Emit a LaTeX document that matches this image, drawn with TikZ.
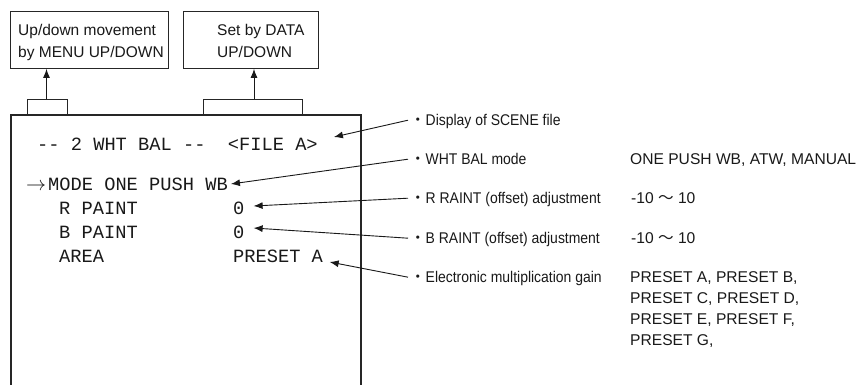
\RequirePackage{fix-cm}
\documentclass[tikz,border=0pt]{standalone}
\usepackage{fontspec}
\setmainfont{Liberation Sans}
\setmonofont{Liberation Mono}
\newfontfamily\jpfont{Noto Sans CJK JP}
\newfontfamily\labfam[FakeStretch=0.9]{Liberation Sans}
\usetikzlibrary{arrows.meta}
\newcommand\labfont{\labfam\fontsize{15.5}{20}\selectfont}
\newcommand\valfont{\fontsize{15.6}{21}\selectfont}
\newcommand\scrfont{\ttfamily\fontsize{18.7}{22}\selectfont}
\newcommand\boxfont{\fontsize{15.5}{20}\selectfont}
\newcommand\arrfont{\fontsize{20}{22}\selectfont}
\newcommand\dotb{{\jpfont\fontsize{15.5}{20}\selectfont ・}}
\newcommand\wave{{\jpfont 〜}}
\begin{document}
\begin{tikzpicture}[x=1pt,y=-1pt,
  every node/.style={inner sep=0pt, text=black!90},
  lab/.style={font=\labfont, anchor=base west},
  val/.style={font=\valfont, anchor=base west},
  scr/.style={font=\scrfont, anchor=base west},
  boxtxt/.style={font=\boxfont, anchor=base west},
  topbox/.style={draw=black!85, line width=0.9pt, anchor=north west},
  conn/.style={draw=black!90, line width=0.9pt, -{Latex[length=9pt,width=7pt]}},
  frame/.style={draw=black!85, line width=2.4pt},
  brk/.style={draw=black!85, line width=0.9pt}
]
\useasboundingbox[fill=white] (0,0) rectangle (862,385);

% top boxes
\node[topbox, minimum width=158pt, minimum height=57pt] (menu) at (10,11) {};
\node[boxtxt] (menut1) at (18,35.5) {Up/down movement};
\node[boxtxt] (menut2) at (18,57.5) {by MENU UP/DOWN};
\node[topbox, minimum width=135pt, minimum height=57pt] (data) at (183,11) {};
\node[boxtxt] (datat1) at (217,35.5) {Set by DATA};
\node[boxtxt] (datat2) at (217,57.5) {UP/DOWN};

% screen frame
\draw[frame] (11,400) -- (11,115) -- (361,115) -- (361,400);

% brackets and arrows to boxes
\draw[brk] (27,115) -- (27,99) -- (67,99) -- (67,115);
\coordinate (br1) at (46.5,99);
\draw[conn] (br1) -- (br1 |- menu.south);
\draw[brk] (203,115) -- (203,99) -- (302,99) -- (302,115);
\coordinate (br2) at (254,99);
\draw[conn] (br2) -- (br2 |- data.south);

% screen text
\node[scr] (hdr) at (37,150) {-{}- 2 WHT BAL -{}-\ \ <FILE A>};
\node[font=\arrfont, anchor=base west] (cur) at (26,190) {$\rightarrow$};
\node[scr] (mode) at (48,190) {MODE ONE PUSH WB};
\node[scr] (rp) at (59,214) {R PAINT};
\node[scr] (rv) at (233,214) {0};
\node[scr] (bp) at (59,238) {B PAINT};
\node[scr] (bv) at (233,238) {0};
\node[scr] (ar) at (59,262) {AREA};
\node[scr] (av) at (233,262) {PRESET A};

% descriptions
\node[lab] (d1) at (410,125.7) {\dotb Display of SCENE file};
\node[lab] (d2) at (410,164.7) {\dotb WHT BAL mode};
\node[lab] (d3) at (410,203.7) {\dotb R RAINT (offset) adjustment};
\node[lab] (d4) at (410,243.7) {\dotb B RAINT (offset) adjustment};
\node[lab] (d5) at (410,282.7) {\dotb Electronic multiplication gain};

% values
\node[val] (v2) at (630,164.7) {ONE PUSH WB, ATW, MANUAL};
\node[val] (v3) at (631,203.7) {-10 \wave\ 10};
\node[val] (v4) at (631,243.7) {-10 \wave\ 10};
\node[val] (v5a) at (630,282.7) {PRESET A, PRESET B,};
\node[val] (v5b) at (630,303.7) {PRESET C, PRESET D,};
\node[val] (v5c) at (630,324.7) {PRESET E, PRESET F,};
\node[val] (v5d) at (630,345.7) {PRESET G,};

% connectors
\coordinate (tip1) at ([xshift=16pt,yshift=13pt]hdr.base east);
\coordinate (tip2) at ([xshift=3pt,yshift=6pt]mode.base east);
\coordinate (tip3) at ([xshift=9pt,yshift=8pt]rv.base east);
\coordinate (tip4) at ([xshift=9pt,yshift=10pt]bv.base east);
\coordinate (tip5) at ([xshift=6.5pt,yshift=0pt]av.base east);
\draw[conn] ([xshift=-2pt,yshift=5.5pt]d1.base west) -- (tip1);
\draw[conn] ([xshift=-2pt,yshift=5.5pt]d2.base west) -- (tip2);
\draw[conn] ([xshift=-2pt,yshift=5.5pt]d3.base west) -- (tip3);
\draw[conn] ([xshift=-2pt,yshift=5.5pt]d4.base west) -- (tip4);
\draw[conn] ([xshift=-2pt,yshift=5.5pt]d5.base west) -- (tip5);
\end{tikzpicture}
\end{document}
